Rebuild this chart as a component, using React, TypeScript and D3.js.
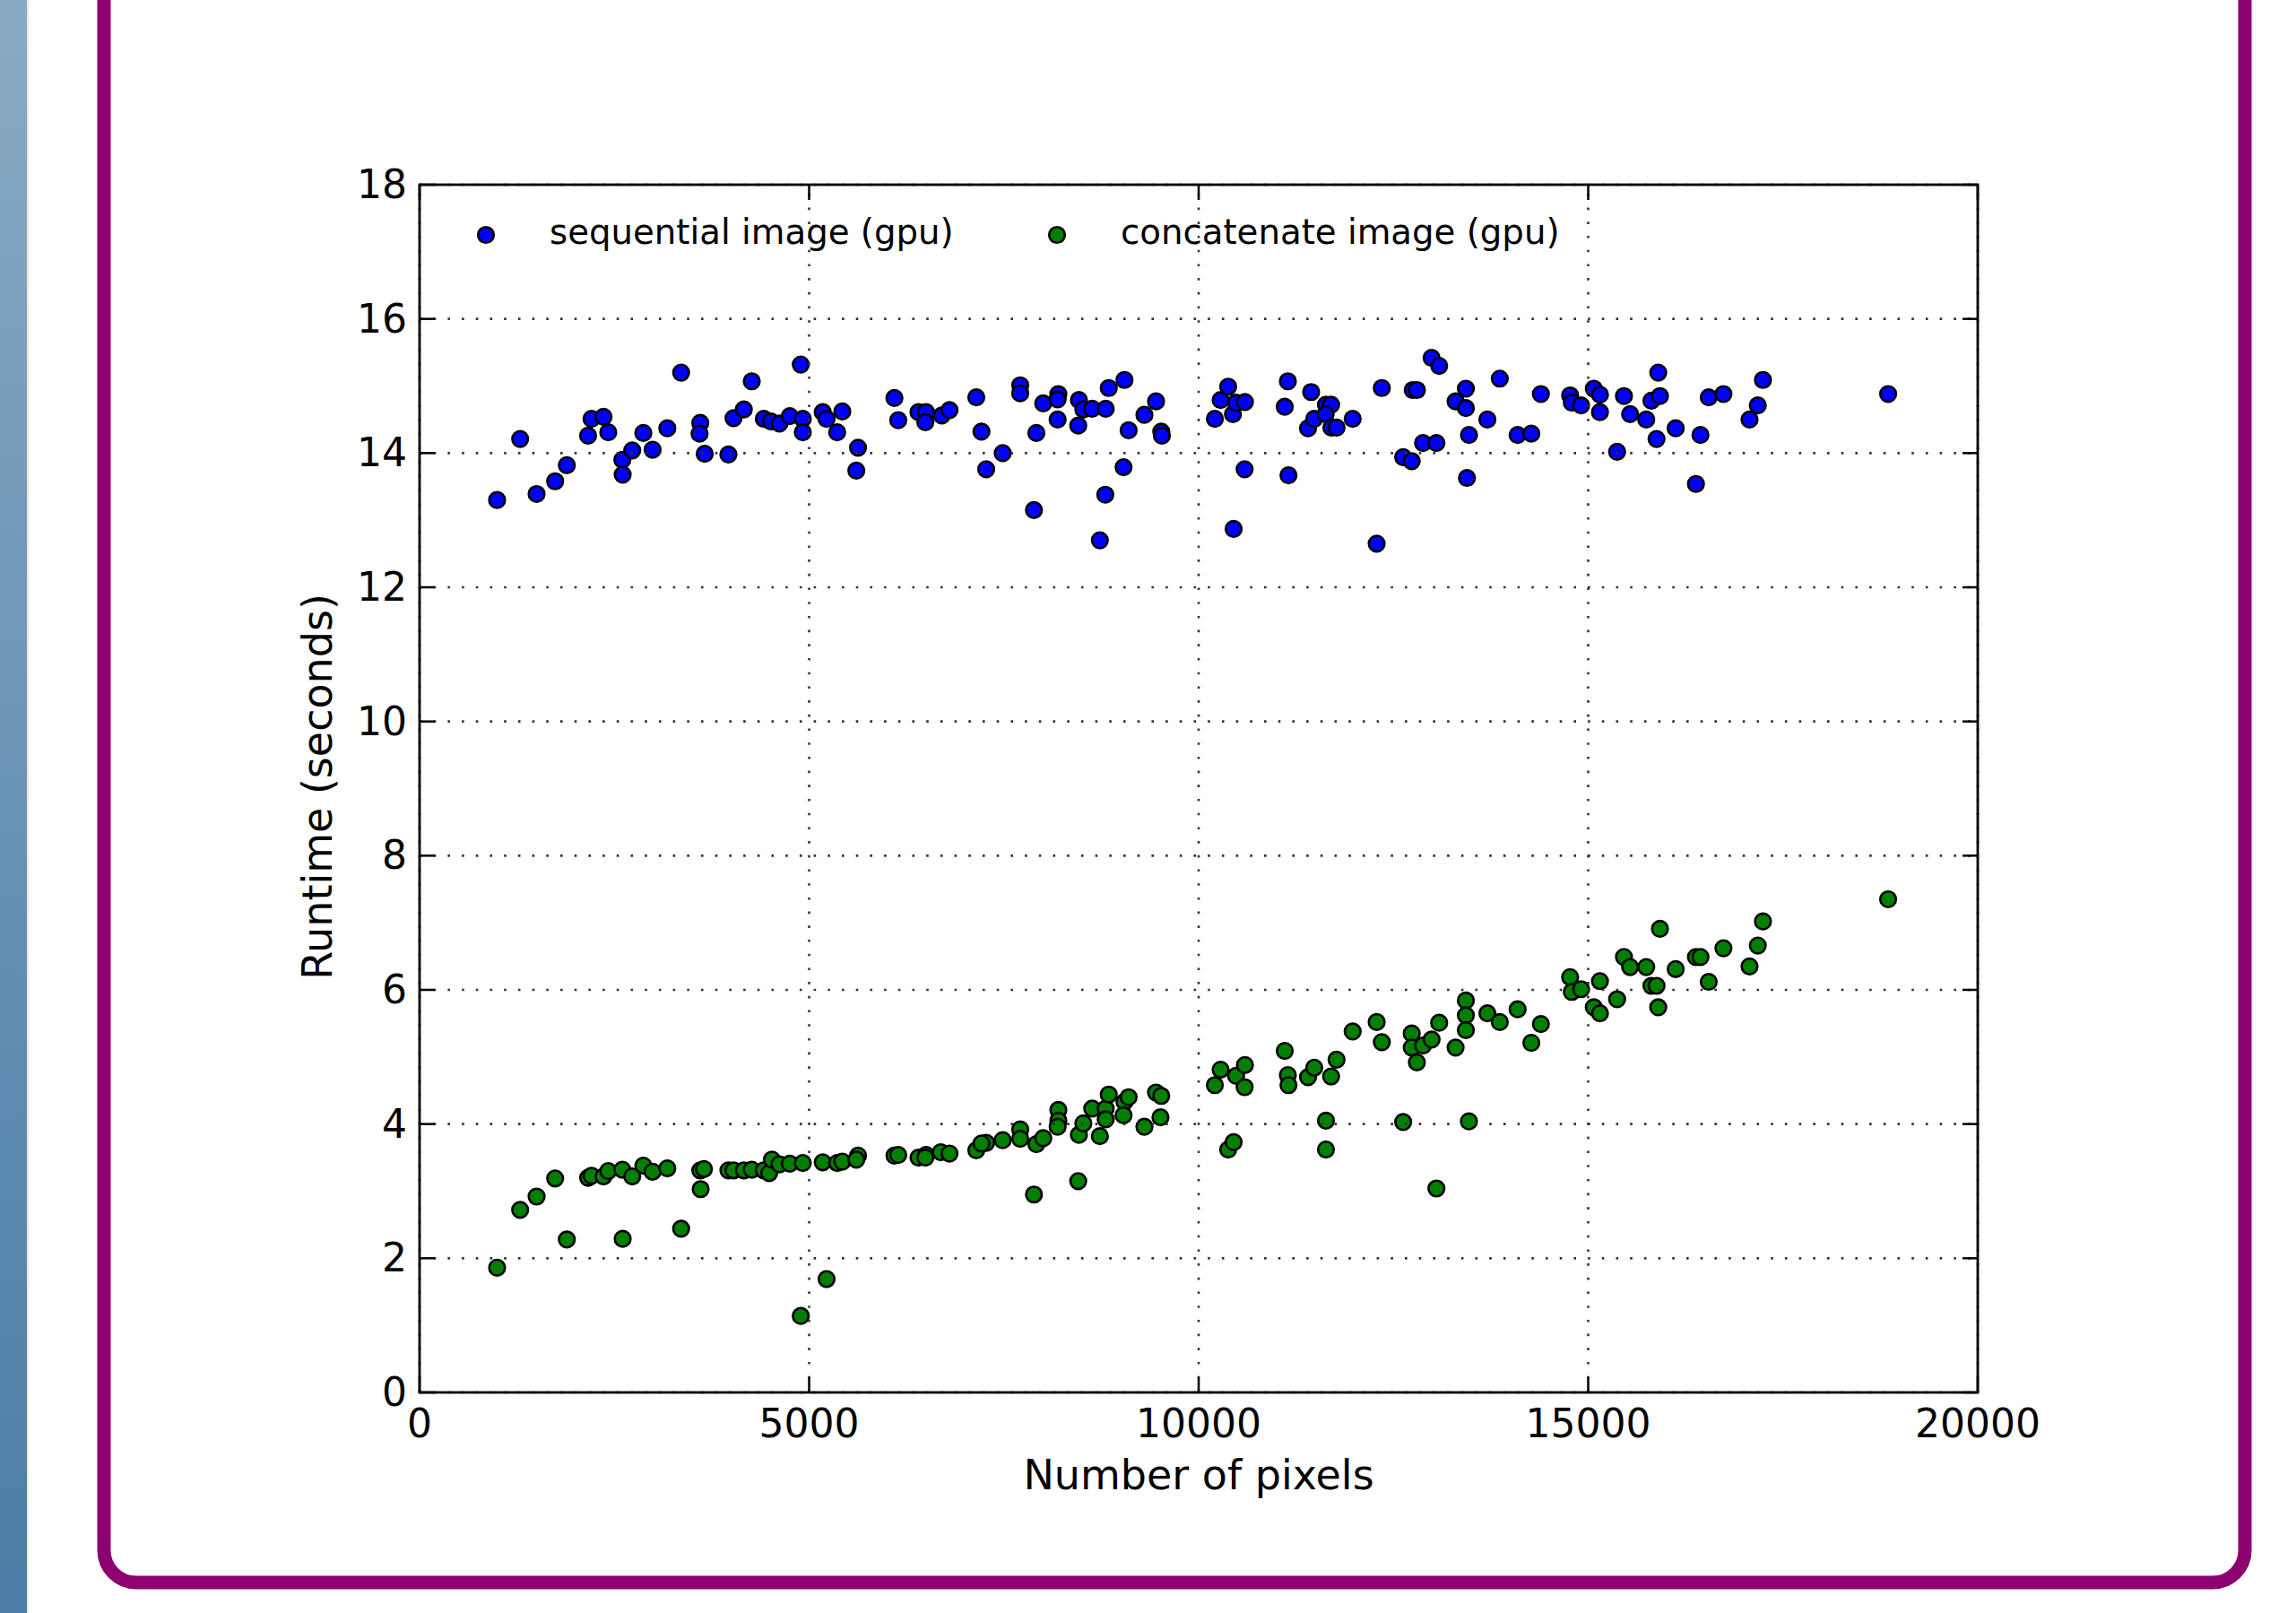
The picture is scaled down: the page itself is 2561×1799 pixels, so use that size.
import React from "react";
import * as d3 from "d3";

// runtime vs image size
const seriesNames = ["sequential image (gpu)", "concatenate image (gpu)"];
const seriesColors = ["#0000ff", "#008000"];

const xTicks = [0, 5000, 10000, 15000, 20000];
const yTicks = [0, 2, 4, 6, 8, 10, 12, 14, 16, 18];

// [pixels, seconds]
const sequentialGpu: [number, number][] = [
  [995, 13.3], [1291, 14.21], [1502, 13.39], [1740, 13.58], [1890, 13.82],
  [2163, 14.26], [2207, 14.51], [2361, 14.54], [2422, 14.31], [2603, 13.9],
  [2607, 13.68], [2730, 14.04], [2872, 14.3], [2991, 14.05], [3180, 14.37],
  [3357, 15.2], [3603, 14.45], [3594, 14.29], [3660, 13.99], [3964, 13.98],
  [4030, 14.52], [4162, 14.65], [4264, 15.07], [4418, 14.51], [4511, 14.47],
  [4620, 14.44], [4752, 14.55], [4893, 15.32], [4919, 14.51], [4919, 14.31],
  [5175, 14.61], [5224, 14.51], [5426, 14.62], [5360, 14.31], [5628, 14.08],
  [5606, 13.74], [6095, 14.82], [6144, 14.49], [6404, 14.61], [6501, 14.61],
  [6492, 14.46], [6703, 14.56], [6802, 14.64], [7146, 14.83], [7212, 14.32],
  [7273, 13.76], [7485, 14.0], [7710, 15.01], [7710, 14.89], [7886, 13.15],
  [7917, 14.3], [8005, 14.74], [8199, 14.88], [8190, 14.8], [8190, 14.5],
  [8463, 14.79], [8454, 14.41], [8520, 14.65], [8634, 14.66], [8807, 14.66],
  [8732, 12.7], [8802, 13.38], [8846, 14.97], [9048, 15.09], [9036, 13.79],
  [9101, 14.34], [9304, 14.57], [9453, 14.77], [9520, 14.32], [9528, 14.26],
  [10208, 14.51], [10282, 14.79], [10379, 14.99], [10440, 14.58], [10480, 14.75],
  [10594, 14.76], [10590, 13.76], [10449, 12.87], [11145, 15.07], [11105, 14.69],
  [11153, 13.67], [11444, 14.91], [11404, 14.37], [11484, 14.51], [11634, 14.72],
  [11700, 14.72], [11630, 14.58], [11704, 14.38], [11770, 14.38], [11977, 14.51],
  [12285, 12.65], [12351, 14.97], [12625, 13.94], [12735, 13.88], [12748, 14.94],
  [12801, 14.94], [12880, 14.15], [13052, 14.15], [12990, 15.42], [13087, 15.3],
  [13298, 14.77], [13430, 14.96], [13430, 14.67], [13470, 14.27], [13444, 13.63],
  [13706, 14.5], [13865, 15.11], [14094, 14.27], [14270, 14.29], [14393, 14.88],
  [14768, 14.86], [14790, 14.75], [14909, 14.71], [15072, 14.96], [15151, 14.87],
  [15151, 14.61], [15459, 14.85], [15371, 14.02], [15538, 14.58], [15745, 14.5],
  [15812, 14.78], [15921, 14.85], [15899, 15.2], [15877, 14.21], [16123, 14.37],
  [16441, 14.27], [16383, 13.54], [16547, 14.83], [16736, 14.88], [17071, 14.5],
  [17177, 14.71], [17243, 15.09], [18850, 14.88],
];

const concatenateGpu: [number, number][] = [
  [995, 1.86], [1291, 2.72], [1502, 2.92], [1740, 3.19], [1890, 2.28],
  [2163, 3.2], [2207, 3.23], [2361, 3.22], [2422, 3.3], [2603, 3.32],
  [2607, 2.29], [2730, 3.22], [2872, 3.38], [2991, 3.29], [3180, 3.34],
  [3357, 2.44], [3603, 3.31], [3650, 3.33], [3608, 3.03], [3964, 3.31],
  [4030, 3.31], [4162, 3.31], [4264, 3.32], [4418, 3.31], [4488, 3.27],
  [4523, 3.47], [4620, 3.4], [4752, 3.41], [4893, 1.14], [4919, 3.42],
  [5224, 1.69], [5175, 3.43], [5360, 3.42], [5426, 3.44], [5628, 3.53],
  [5606, 3.47], [6095, 3.53], [6144, 3.54], [6404, 3.5], [6501, 3.54],
  [6492, 3.5], [6690, 3.58], [6802, 3.56], [7146, 3.61], [7273, 3.72],
  [7212, 3.71], [7485, 3.76], [7710, 3.92], [7710, 3.78], [7886, 2.95],
  [7917, 3.7], [8005, 3.79], [8199, 4.21], [8199, 4.05], [8190, 3.96],
  [8463, 3.84], [8454, 3.15], [8520, 4.01], [8634, 4.23], [8807, 4.23],
  [8807, 4.07], [8732, 3.82], [8846, 4.44], [9048, 4.33], [9101, 4.4],
  [9036, 4.13], [9304, 3.96], [9453, 4.47], [9520, 4.42], [9510, 4.1],
  [10208, 4.58], [10282, 4.81], [10379, 3.62], [10449, 3.73], [10480, 4.72],
  [10594, 4.88], [10590, 4.55], [11105, 5.09], [11145, 4.73], [11153, 4.58],
  [11404, 4.7], [11484, 4.84], [11634, 4.05], [11634, 3.62], [11700, 4.71],
  [11770, 4.96], [11977, 5.38], [12285, 5.52], [12351, 5.22], [12625, 4.03],
  [12735, 5.35], [12735, 5.14], [12801, 4.92], [12880, 5.17], [12990, 5.26],
  [13052, 3.04], [13087, 5.51], [13298, 5.14], [13430, 5.84], [13430, 5.62],
  [13430, 5.4], [13469, 4.04], [13706, 5.65], [13865, 5.52], [14094, 5.71],
  [14270, 5.21], [14393, 5.49], [14768, 6.19], [14790, 5.97], [14909, 6.01],
  [15072, 5.74], [15151, 5.65], [15151, 6.13], [15371, 5.86], [15459, 6.49],
  [15538, 6.34], [15745, 6.34], [15812, 6.06], [15877, 6.06], [15899, 5.74],
  [15921, 6.91], [16123, 6.31], [16383, 6.49], [16441, 6.49], [16547, 6.12],
  [16736, 6.62], [17071, 6.35], [17177, 6.66], [17243, 7.02], [18850, 7.35],
];

const W = 2561;
const H = 1799;
const plot = { left: 468, right: 2206, top: 206, bottom: 1553 };
const FONT = "'DejaVu Sans', sans-serif";
const TICK = 17;
const R = 8.8;

export default function App() {
  const x = d3.scaleLinear().domain([0, 20000]).range([plot.left, plot.right]);
  const y = d3.scaleLinear().domain([0, 18]).range([plot.bottom, plot.top]);
  const fmt = d3.format("d");
  const series = [sequentialGpu, concatenateGpu];

  return (
    <svg
      width={W}
      height={H}
      style={{ position: "absolute", left: 0, top: 0, background: "#fff" }}
    >
      <defs>
        <linearGradient id="strip" x1="0" y1="0" x2="0" y2="1">
          <stop offset="0" stopColor="#88a9c3" />
          <stop offset="1" stopColor="#4b7da6" />
        </linearGradient>
      </defs>
      <rect x={0} y={0} width={30} height={H} fill="url(#strip)" />
      <rect x={30} y={0} width={2} height={H} fill="#efe4dc" />
      <rect
        x={116}
        y={-200}
        width={2388}
        height={1965}
        rx={36}
        fill="none"
        stroke="#8c0070"
        strokeWidth={15}
      />

      {/* points */}
      {series.map((pts, si) => (
        <g key={si}>
          {pts.map((d, i) => (
            <circle
              key={i}
              cx={x(d[0])}
              cy={y(d[1])}
              r={R}
              fill={seriesColors[si]}
              stroke="#000"
              strokeWidth={2.6}
            />
          ))}
        </g>
      ))}

      {/* dotted grid, drawn over the markers like the classic style */}
      <g stroke="#333" strokeWidth={2.6} strokeDasharray="2.6 13.1">
        {xTicks.map((t) => (
          <line key={"gx" + t} x1={x(t)} x2={x(t)} y1={plot.bottom} y2={plot.top} />
        ))}
        {yTicks.map((t) => (
          <line key={"gy" + t} x1={plot.left} x2={plot.right} y1={y(t)} y2={y(t)} />
        ))}
      </g>

      {/* inward ticks on all four sides */}
      <g stroke="#000" strokeWidth={2.5}>
        {xTicks.map((t) => (
          <g key={"tx" + t}>
            <line x1={x(t)} x2={x(t)} y1={plot.bottom} y2={plot.bottom - TICK} />
            <line x1={x(t)} x2={x(t)} y1={plot.top} y2={plot.top + TICK} />
          </g>
        ))}
        {yTicks.map((t) => (
          <g key={"ty" + t}>
            <line x1={plot.left} x2={plot.left + TICK} y1={y(t)} y2={y(t)} />
            <line x1={plot.right} x2={plot.right - TICK} y1={y(t)} y2={y(t)} />
          </g>
        ))}
      </g>

      <rect
        x={plot.left}
        y={plot.top}
        width={plot.right - plot.left}
        height={plot.bottom - plot.top}
        fill="none"
        stroke="#000"
        strokeWidth={2.8}
      />

      {/* tick labels */}
      <g fontFamily={FONT} fontSize={44} fill="#000">
        {xTicks.map((t) => (
          <text key={"lx" + t} x={x(t)} y={1603} textAnchor="middle">
            {fmt(t)}
          </text>
        ))}
        {yTicks.map((t) => (
          <text key={"ly" + t} x={454} y={y(t) + 15} textAnchor="end">
            {fmt(t)}
          </text>
        ))}
      </g>

      {/* axis titles */}
      <text
        x={(plot.left + plot.right) / 2}
        y={1661}
        textAnchor="middle"
        fontFamily={FONT}
        fontSize={46}
      >
        Number of pixels
      </text>
      <text
        transform={`translate(370,${(plot.top + plot.bottom) / 2 - 2}) rotate(-90)`}
        textAnchor="middle"
        fontFamily={FONT}
        fontSize={46}
      >
        Runtime (seconds)
      </text>

      {/* legend, no frame */}
      {seriesNames.map((name, i) => {
        const mx = i === 0 ? 542 : 1179;
        return (
          <g key={name}>
            <circle
              cx={mx}
              cy={262}
              r={R}
              fill={seriesColors[i]}
              stroke="#000"
              strokeWidth={2.6}
            />
            <text x={mx + 71} y={272} fontFamily={FONT} fontSize={38.7}>
              {name}
            </text>
          </g>
        );
      })}
    </svg>
  );
}
